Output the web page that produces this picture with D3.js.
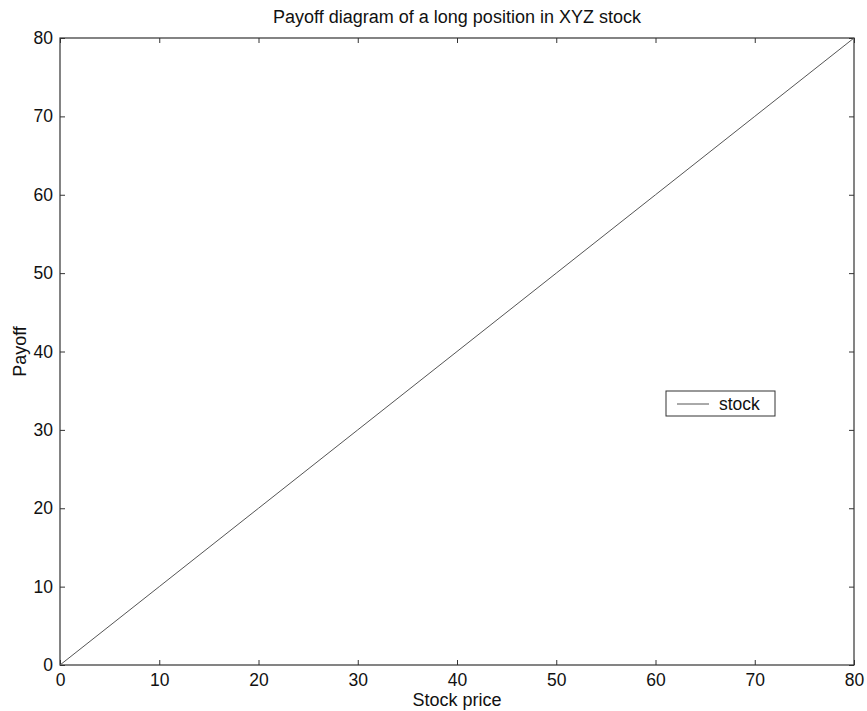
<!DOCTYPE html>
<html><head><meta charset="utf-8">
<script src="https://cdn.jsdelivr.net/npm/d3@7"></script>
<style>body{margin:0;background:#fff;}text{font-family:"Liberation Sans",Arial,sans-serif;fill:#111;}</style>
</head><body>
<svg id="c" width="867" height="711"></svg>
<script>
const stockPrice = [0, 10, 20, 30, 40, 50, 60, 70, 80];
const payoff = [0, 10, 20, 30, 40, 50, 60, 70, 80];
const xTicks = [0, 10, 20, 30, 40, 50, 60, 70, 80];
const yTicks = [0, 10, 20, 30, 40, 50, 60, 70, 80];
const seriesName = "stock";
const title = "Payoff diagram of a long position in XYZ stock";
const xLabel = "Stock price";
const yLabel = "Payoff";

const svg = d3.select("#c");
const L = 60, R = 854, T = 38, B = 665;
const x = d3.scaleLinear().domain([0, 80]).range([L, R]);
const y = d3.scaleLinear().domain([0, 80]).range([B, T]);
const axisColor = "#333";
const tl = 5;

function style(g, labels) {
  g.select(".domain").remove();
  g.selectAll("line").attr("stroke", axisColor);
  g.selectAll("text").style("font-size", "17.5px").attr("fill", "#111");
  if (!labels) g.selectAll("text").remove();
}
svg.append("g").attr("transform", `translate(0,${B})`)
  .call(d3.axisBottom(x).tickValues(xTicks).tickSize(-tl).tickPadding(9).tickFormat(d3.format("d")))
  .call(g => style(g, true));
svg.append("g").attr("transform", `translate(0,${T})`)
  .call(d3.axisTop(x).tickValues(xTicks).tickSize(-tl))
  .call(g => style(g, false));
svg.append("g").attr("transform", `translate(${L},0)`)
  .call(d3.axisLeft(y).tickValues(yTicks).tickSize(-tl).tickPadding(7).tickFormat(d3.format("d")))
  .call(g => style(g, true));
svg.append("g").attr("transform", `translate(${R},0)`)
  .call(d3.axisRight(y).tickValues(yTicks).tickSize(-tl))
  .call(g => style(g, false));

svg.append("rect").attr("x", L).attr("y", T).attr("width", R - L).attr("height", B - T)
  .attr("fill", "none").attr("stroke", axisColor).attr("stroke-width", 1.2);

const line = d3.line().x((d, i) => x(stockPrice[i])).y(d => y(d));
svg.append("path").datum(payoff).attr("d", line)
  .attr("fill", "none").attr("stroke", "#555").attr("stroke-width", 1);

// legend
const lg = svg.append("g");
lg.append("rect").attr("x", 666).attr("y", 391).attr("width", 109).attr("height", 25)
  .attr("fill", "#fff").attr("stroke", axisColor).attr("stroke-width", 1);
lg.append("line").attr("x1", 677).attr("x2", 709).attr("y1", 404).attr("y2", 404)
  .attr("stroke", "#555");
lg.append("text").attr("x", 719).attr("y", 410).style("font-size", "17.5px").text(seriesName);

svg.append("text").attr("x", (L + R) / 2).attr("y", 23).attr("text-anchor", "middle")
  .style("font-size", "18px").text(title);
svg.append("text").attr("x", (L + R) / 2).attr("y", 706).attr("text-anchor", "middle")
  .style("font-size", "18px").text(xLabel);
svg.append("text").attr("transform", `translate(26,${(T + B) / 2}) rotate(-90)`)
  .attr("text-anchor", "middle").style("font-size", "18px").text(yLabel);
</script>
</body></html>
